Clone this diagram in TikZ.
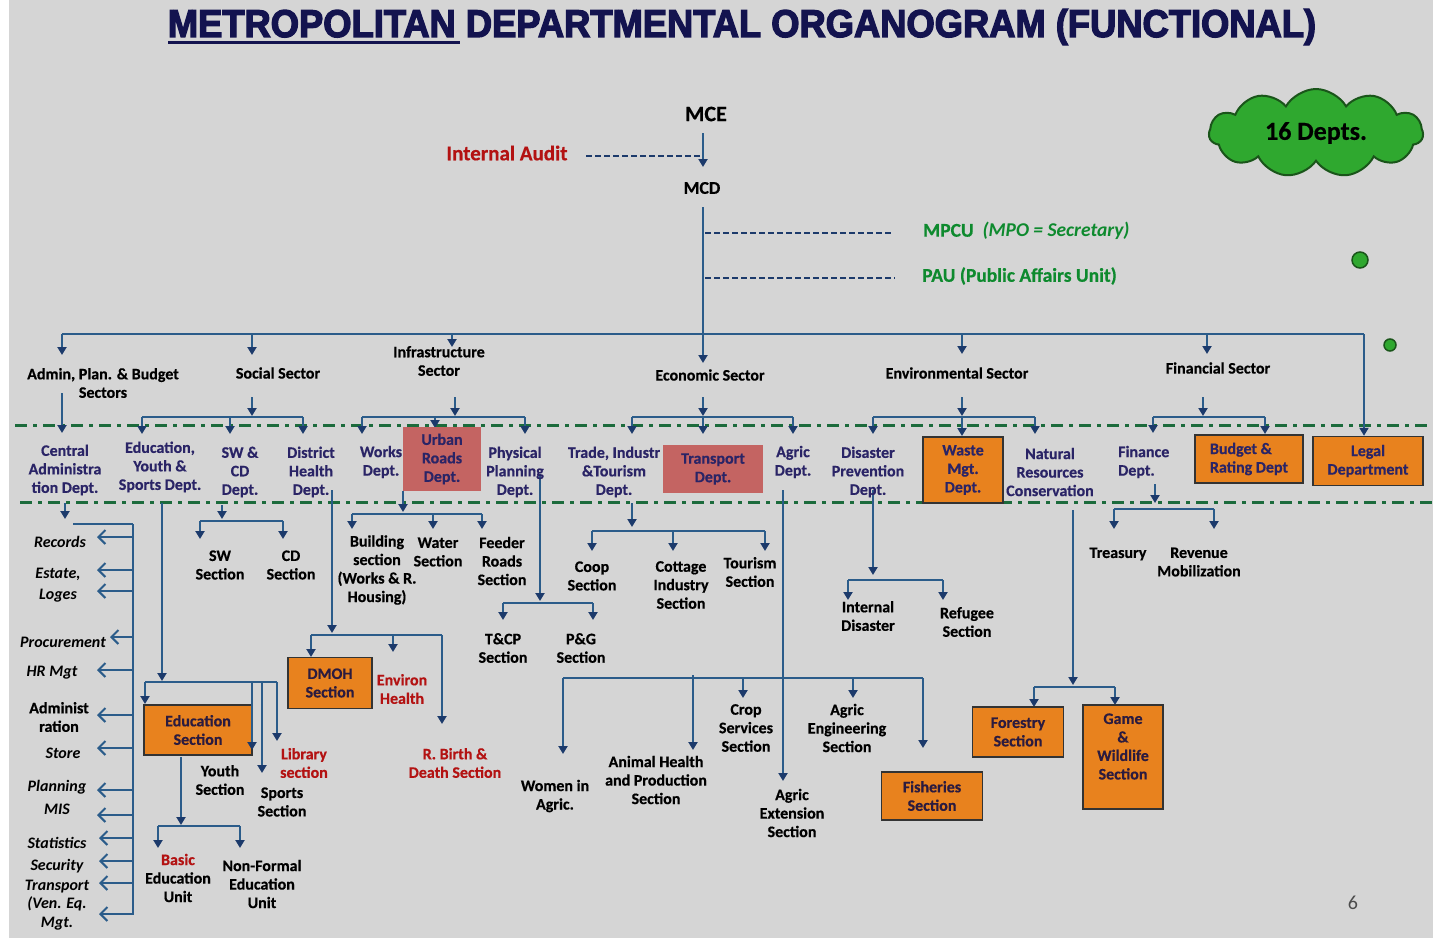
\documentclass[tikz,border=0pt]{standalone}
\usepackage{fontspec}
\setmainfont{Carlito}[BoldFeatures={FakeBold=0.5}]
\newfontfamily\titlefont{Liberation Sans}[FakeBold=3.5]
\usetikzlibrary{arrows.meta,shapes.symbols}

\definecolor{paperc}{HTML}{D5D5D5}
\definecolor{linec}{HTML}{2B5C8A}
\definecolor{arrc}{HTML}{1C3A6B}
\definecolor{deptc}{HTML}{2A2466}
\definecolor{boxtxt}{HTML}{2B1B3F}
\definecolor{redc}{HTML}{B31212}
\definecolor{greenc}{HTML}{0E8A2E}
\definecolor{sepc}{HTML}{1C6B3C}
\definecolor{orangec}{HTML}{E8821E}
\definecolor{pinkc}{HTML}{C46462}
\definecolor{cloudc}{HTML}{2FA82F}
\definecolor{cloudb}{HTML}{1A551A}
\definecolor{titlec}{HTML}{13134F}

\pgfdeclarelayer{paper}
\pgfdeclarelayer{wires}
\pgfsetlayers{paper,wires,main}

\tikzset{
  conn/.style={draw=linec, line width=2pt},
  arr/.style={conn, -{Triangle[length=8pt,width=9pt,color=arrc]}},
  larr/.style={conn, -{Straight Barb[length=7pt,width=14pt,color=linec]}},
  dashc/.style={draw=arrc, line width=1.8pt, dash pattern=on 6pt off 3pt},
  sepline/.style={draw=sepc, line width=3pt, dash pattern=on 12pt off 6pt on 4pt off 6pt},
  lbl/.style={font=\bfseries\fontsize{16}{18.5}\selectfont, align=center, inner sep=0pt, text=black},
  dept/.style={lbl, text=deptc},
  redlbl/.style={lbl, text=redc},
  ital/.style={lbl, font=\bfseries\itshape\fontsize{16}{18.5}\selectfont},
  obox/.style={lbl, text=boxtxt, fill=orangec, draw=black!80, line width=1.5pt},
  pbox/.style={dept, fill=pinkc},
}

% a straight connector between two named end points
\newcommand\wire[6][arr]{%
  \coordinate (#2-a) at (#3,#4);
  \coordinate (#2-b) at (#5,#6);
  \draw[#1] (#2-a) -- (#2-b);}

\begin{document}
\begin{tikzpicture}[x=1pt,y=-1pt]
\useasboundingbox (0,0) rectangle (1433,938);
\begin{pgfonlayer}{paper}
  \fill[white] (0,0) rectangle (1433,938);
  \fill[paperc] (9,0) rectangle (1433,938);
\end{pgfonlayer}

% ---------- heading ----------
\node[text=titlec, inner sep=0] (title) at (742,27)
  {\titlefont\bfseries\resizebox{1148pt}{28pt}{METROPOLITAN DEPARTMENTAL ORGANOGRAM (FUNCTIONAL)}};
\draw[titlec, line width=3pt] (168,42) -- (460,42);

\node[cloud, cloud puffs=11, cloud puff arc=120, aspect=2.4, fill=cloudc, draw=cloudb,
      line width=2pt, minimum width=214pt, minimum height=88pt, inner sep=0pt,
      font=\bfseries\fontsize{26}{26}\selectfont] (cloud) at (1316,133) {16 Depts.};
\node[circle, fill=cloudc, draw=cloudb, line width=1.5pt, minimum size=16pt, inner sep=0] (dotA) at (1360,260) {};
\node[circle, fill=cloudc, draw=cloudb, line width=1.5pt, minimum size=12pt, inner sep=0] (dotB) at (1390,345) {};
\node[font=\fontsize{20}{20}\selectfont, text=black!70] (page) at (1353,903) {6};

% ---------- executive ----------
\node[lbl, font=\bfseries\fontsize{22}{22}\selectfont] (MCE) at (706,114) {MCE};
\node[lbl, font=\bfseries\fontsize{18}{18}\selectfont] (MCD) at (702,188) {MCD};
\node[redlbl, font=\bfseries\fontsize{21}{21}\selectfont] (IA) at (507,153) {Internal Audit};
\node[lbl, text=greenc, anchor=west, font=\bfseries\fontsize{19.5}{19.5}\selectfont] (MPCU) at (923,231) {MPCU\ \ \textit{(MPO = Secretary)}};
\node[lbl, text=greenc, anchor=west, font=\bfseries\fontsize{19.5}{19.5}\selectfont] (PAU) at (922,276) {PAU (Public Affairs Unit)};

% ---------- sectors ----------
\node[lbl] (s-admin) at (103,383) {Admin, Plan. \& Budget\\Sectors};
\node[lbl] (s-social) at (278,373) {Social Sector};
\node[lbl] (s-infra) at (439,361) {Infrastructure\\Sector};
\node[lbl] (s-econ) at (710,375) {Economic Sector};
\node[lbl] (s-env) at (957,373) {Environmental Sector};
\node[lbl] (s-fin) at (1218,368) {Financial Sector};

% ---------- departments ----------
\node[dept] (d-central) at (65,470) {Central\\Administra\\tion Dept.};
\node[dept] (d-edu) at (160,467) {Education,\\Youth \&\\Sports Dept.};
\node[dept] (d-swcd) at (240,472) {SW \&\\CD\\Dept.};
\node[dept] (d-health) at (311,472) {District\\Health\\Dept.};
\node[dept] (d-works) at (381,462) {Works\\Dept.};
\node[pbox, minimum width=78pt, minimum height=64pt] (d-urban) at (442,459) {Urban\\Roads\\Dept.};
\node[dept] (d-phys) at (515,472) {Physical\\Planning\\Dept.};
\node[dept] (d-trade) at (614,472) {Trade, Industr\\\&Tourism\\Dept.};
\node[pbox, minimum width=100pt, minimum height=48pt] (d-transport) at (713,469) {Transport\\Dept.};
\node[dept] (d-agric) at (793,462) {Agric\\Dept.};
\node[dept] (d-disaster) at (868,472) {Disaster\\Prevention\\Dept.};
\node[obox, text=deptc, minimum width=80pt, minimum height=66pt] (d-waste) at (963,470) {Waste\\Mgt.\\Dept.};
\node[dept] (d-natural) at (1050,472) {Natural\\Resources\\Conservation};
\node[dept, anchor=west, align=left] (d-finance) at (1118,462) {Finance\\Dept.};
\node[obox, text=deptc, align=left, minimum width=108pt, minimum height=48pt] (d-budget) at (1249,459) {Budget \&\\Rating Dept};
\node[obox, text=deptc, minimum width=110pt, minimum height=49pt] (d-legal) at (1368,461) {Legal\\Department};

% ---------- central administration units ----------
\node[ital] (u-records) at (60,542) {Records};
\node[ital] (u-estate) at (58,574) {Estate,};
\node[ital] (u-loges) at (58,596) {Loges};
\node[ital] (u-proc) at (63,642) {Procurement};
\node[ital] (u-hr) at (52,673) {HR Mgt};
\node[lbl] (u-admin) at (59,717) {Administ\\ration};
\node[ital] (u-store) at (63,753) {Store};
\node[ital] (u-plan) at (57,787) {Planning};
\node[ital] (u-mis) at (57,809) {MIS};
\node[ital] (u-stat) at (57,843) {Statistics};
\node[ital] (u-sec) at (57,866) {Security};
\node[ital] (u-trans) at (57,905) {Transport\\(Ven. Eq.\\Mgt.};

% ---------- social sector sections ----------
\node[lbl] (sw) at (220,565) {SW\\Section};
\node[lbl] (cd) at (291,565) {CD\\Section};
\node[obox, minimum width=108pt, minimum height=50pt] (edu-sec) at (198,730) {Education\\Section};
\node[lbl] (youth) at (220,780) {Youth\\Section};
\node[lbl] (sports) at (282,802) {Sports\\Section};
\node[redlbl] (library) at (304,763) {Library\\section};
\node[lbl] (basic) at (178,878) {\textcolor{redc}{Basic}\\Education\\Unit};
\node[lbl] (nonformal) at (262,884) {Non-Formal\\Education\\Unit};
\node[obox, minimum width=84pt, minimum height=51pt] (dmoh) at (330,683) {DMOH\\Section};
\node[redlbl] (environ) at (402,689) {Environ\\Health};
\node[redlbl] (birth) at (455,763) {R. Birth \&\\Death Section};

% ---------- infrastructure sections ----------
\node[lbl] (building) at (377,570) {Building\\section\\(Works \& R.\\Housing)};
\node[lbl] (water) at (438,552) {Water\\Section};
\node[lbl] (feeder) at (502,561) {Feeder\\Roads\\Section};
\node[lbl] (tcp) at (503,648) {T\&CP\\Section};
\node[lbl] (pg) at (581,648) {P\&G\\Section};

% ---------- economic sections ----------
\node[lbl] (coop) at (592,576) {Coop\\Section};
\node[lbl] (cottage) at (681,585) {Cottage\\Industry\\Section};
\node[lbl] (tourism) at (750,572) {Tourism\\Section};
\node[lbl] (women) at (555,796) {Women in\\Agric.};
\node[lbl] (animal) at (656,780) {Animal Health\\and Production\\Section};
\node[lbl] (crop) at (746,728) {Crop\\Services\\Section};
\node[lbl] (agreng) at (847,728) {Agric\\Engineering\\Section};
\node[lbl] (agrext) at (792,813) {Agric\\Extension\\Section};
\node[obox, minimum width=101pt, minimum height=48pt] (fisheries) at (932,796) {Fisheries\\Section};

% ---------- environmental and financial sections ----------
\node[lbl] (intdis) at (868,616) {Internal\\Disaster};
\node[lbl] (refugee) at (967,622) {Refugee\\Section};
\node[obox, minimum width=91pt, minimum height=50pt] (forestry) at (1018,732) {Forestry\\Section};
\node[obox, minimum width=80pt, minimum height=104pt,
      label={[lbl, text=boxtxt, anchor=north, yshift=-9pt]north:{Game\\\&\\Wildlife\\Section}}] (game) at (1123,757) {};
\node[lbl] (treasury) at (1118,554) {Treasury};
\node[lbl] (revenue) at (1199,562) {Revenue\\Mobilization};

% ---------- connectors ----------
\begin{pgfonlayer}{wires}
  \wire[sepline]{sepA}{15}{425}{1433}{425}
  \wire[sepline]{sepB}{20}{502}{1433}{502}

  \wire{mce}{703}{133}{703}{167}
  \wire[dashc]{ia}{586}{156}{701}{156}
  \wire{spine}{703}{207}{703}{363}
  \wire[dashc]{mpcu}{705}{233}{892}{233}
  \wire[dashc]{pau}{705}{278}{895}{278}

  \wire[conn]{bar}{62}{334}{1364}{334}
  \wire{bar-admin}{62}{334}{62}{355}
  \wire{bar-social}{252}{334}{252}{355}
  \wire{bar-infra}{452}{334}{452}{347}
  \wire{bar-env}{962}{334}{962}{354}
  \wire{bar-fin}{1207}{334}{1207}{354}
  \draw[arr] (bar-b) -- (bar-b |- d-legal.north);

  % sectors to departments
  \wire{adm}{62}{393}{62}{433}
  \wire{soc}{252}{397}{252}{416}
  \wire[conn]{soc-bar}{142}{417}{303}{417}
  \wire{soc1}{142}{417}{142}{434}
  \wire{soc2}{230}{417}{230}{434}
  \wire{soc3}{303}{417}{303}{434}
  \wire{inf}{455}{397}{455}{416}
  \wire[conn]{inf-bar}{362}{417}{525}{417}
  \wire{inf1}{362}{417}{362}{434}
  \wire{inf2}{435}{417}{435}{428}
  \wire{inf3}{525}{417}{525}{434}
  \wire{eco}{703}{397}{703}{416}
  \wire[conn]{eco-bar}{632}{417}{793}{417}
  \wire{eco1}{632}{417}{632}{434}
  \wire{eco2}{703}{417}{703}{434}
  \wire{eco3}{793}{417}{793}{434}
  \wire{env}{962}{397}{962}{416}
  \wire[conn]{env-bar}{873}{417}{1035}{417}
  \wire{env1}{873}{417}{873}{434}
  \wire{env2}{962}{417}{962}{436}
  \wire{env3}{1035}{417}{1035}{434}
  \wire{fin}{1203}{397}{1203}{416}
  \wire[conn]{fin-bar}{1153}{417}{1265}{417}
  \wire{fin1}{1153}{417}{1153}{433}
  \wire{fin2}{1265}{417}{1265}{434}

  % central administration units
  \wire{cen}{65}{503}{65}{519}
  \wire[conn]{cen-h}{73}{524}{133}{524}
  \wire[conn]{cen-v}{133}{524}{133}{915}
  \wire[larr]{l-rec}{133}{537}{97}{537}
  \wire[larr]{l-est}{133}{570}{97}{570}
  \wire[larr]{l-log}{133}{591}{97}{591}
  \wire[larr]{l-pro}{133}{637}{110}{637}
  \wire[larr]{l-hr}{133}{670}{97}{670}
  \wire[larr]{l-adm}{133}{715}{97}{715}
  \wire[larr]{l-sto}{133}{748}{97}{748}
  \wire[larr]{l-pla}{133}{790}{97}{790}
  \wire[larr]{l-mis}{133}{815}{97}{815}
  \wire[larr]{l-sta}{133}{838}{99}{838}
  \wire[larr]{l-sec}{133}{861}{99}{861}
  \wire[larr]{l-tra}{133}{883}{99}{883}
  \wire[larr]{l-mgt}{133}{914}{99}{914}

  % education, youth and sports
  \wire{edu}{162}{503}{162}{681}
  \wire[conn]{edu-bar}{145}{682}{277}{682}
  \wire{edu1}{145}{682}{145}{704}
  \wire{edu-sp}{262}{682}{262}{773}
  \wire{edu-lib}{277}{682}{277}{741}
  \wire{edusec}{181}{757}{181}{825}
  \wire[conn]{edusec-bar}{158}{826}{240}{826}
  \wire{basic-in}{158}{826}{158}{848}
  \wire{nonf-in}{240}{826}{240}{848}

  % social welfare and community development
  \wire{swcd}{222}{505}{222}{519}
  \wire[conn]{swcd-bar}{200}{521}{283}{521}
  \wire{sw-in}{200}{521}{200}{539}
  \wire{cd-in}{283}{521}{283}{539}

  % district health
  \wire{hlth}{332}{490}{332}{633}
  \wire[conn]{hlth-bar}{311}{635}{442}{635}
  \wire{dmoh-in}{311}{635}{311}{657}
  \wire{envh-in}{393}{635}{393}{652}
  \wire{birth-in}{442}{635}{442}{724}

  % urban roads
  \wire{urb}{403}{491}{403}{512}
  \wire[conn]{urb-bar}{352}{514}{482}{514}
  \wire{bld-in}{352}{514}{352}{529}
  \wire{wat-in}{433}{514}{433}{529}
  \wire{fdr-in}{482}{514}{482}{529}

  % physical planning
  \wire{phy}{540}{474}{540}{601}
  \wire[conn]{phy-bar}{503}{603}{593}{603}
  \wire{tcp-in}{503}{603}{503}{620}
  \wire{pg-in}{593}{603}{593}{620}

  % trade, industry and tourism
  \wire{trd}{632}{503}{632}{527}
  \wire[conn]{trd-bar}{592}{531}{765}{531}
  \wire{coop-in}{592}{531}{592}{551}
  \wire{cott-in}{673}{531}{673}{551}
  \wire{tour-in}{765}{531}{765}{551}

  % agriculture
  \wire{agr}{783}{490}{783}{781}
  \wire[conn]{agr-bar}{563}{678}{923}{678}
  \wire{women-in}{563}{678}{563}{754}
  \wire{animal-in}{693}{675}{693}{750}
  \wire{crop-in}{743}{678}{743}{698}
  \wire{aeng-in}{853}{678}{853}{698}
  \wire{fish-in}{923}{678}{923}{748}

  % disaster prevention
  \wire{dis}{873}{490}{873}{575}
  \wire[conn]{dis-bar}{848}{580}{943}{580}
  \wire{intd-in}{848}{580}{848}{600}
  \wire{refg-in}{943}{580}{943}{600}

  % natural resources
  \wire{nat}{1073}{510}{1073}{685}
  \wire[conn]{nat-bar}{1034}{687}{1115}{687}
  \wire{forest-in}{1034}{687}{1034}{707}
  \wire{game-in}{1115}{687}{1115}{705}

  % finance
  \wire{finc}{1155}{484}{1155}{503}
  \wire[conn]{finc-bar}{1114}{509}{1214}{509}
  \wire{treas-in}{1114}{509}{1114}{529}
  \wire{rev-in}{1214}{509}{1214}{529}
\end{pgfonlayer}

% youth branch runs down the edge of the education box, above it
\wire{edu-yo}{252}{682}{252}{750}

\end{tikzpicture}
\end{document}
